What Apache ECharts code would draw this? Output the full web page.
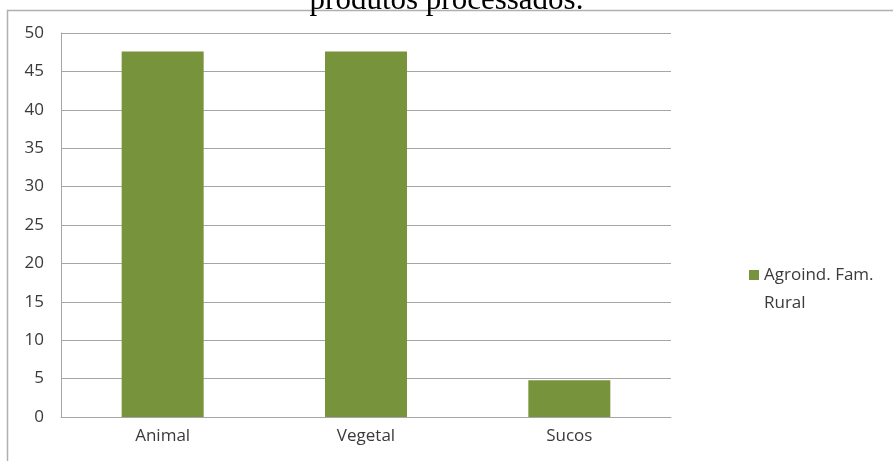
<!DOCTYPE html>
<html>
<head>
<meta charset="utf-8">
<script src="https://cdn.jsdelivr.net/npm/echarts@6/dist/echarts.min.js"></script>
<style>
	html, body { margin: 0; padding: 0; background: #fff; }
	#main { width: 893px; height: 461px; }
</style>
</head>
<body>
<div id="main"></div>
<script>
	// dados do gráfico
	var categorias = ['Animal', 'Vegetal', 'Sucos'];
	var serieNome = 'Agroind. Fam.\nRural';
	var valores = [47.6, 47.6, 4.8];
	var yTicks = [0, 5, 10, 15, 20, 25, 30, 35, 40, 45, 50];

	var fonte = '"Open Sans", Lato, sans-serif';
	var corTexto = '#3a3a3a';
	var corGrade = '#a6a6a6';

	var myChart = echarts.init(document.getElementById('main'));

	var option = {
		animation: false,
		title: {
			text: 'produtos processados.',
			left: 'center',
			top: -20,
			textStyle: {
				fontFamily: '"Liberation Serif", "DejaVu Serif", serif',
				fontWeight: 'normal',
				fontSize: 31,
				color: '#000'
			}
		},
		graphic: [
			{
				type: 'rect',
				shape: { x: 7.5, y: 10.5, width: 900, height: 460 },
				style: { fill: 'none', stroke: '#b0b0b0', lineWidth: 1.5 },
				z: -1
			}
		],
		legend: {
			orient: 'vertical',
			left: 749,
			top: 261,
			padding: 0,
			itemWidth: 10,
			itemHeight: 38,
			itemGap: 0,
			// quadrado no topo, ponto invisível embaixo para alinhar com a 1a linha
			icon: 'path://M0,0h10v10h-10z M0,38h0.01v0.01h-0.01z',
			textStyle: {
				fontFamily: fonte,
				fontSize: 17,
				color: corTexto,
				lineHeight: 28,
				padding: [0, 0, 0, 0]
			},
			data: [serieNome]
		},
		grid: {
			left: 61,
			right: 893 - 671,
			top: 33,
			bottom: 461 - 417
		},
		xAxis: {
			type: 'category',
			data: categorias,
			axisLine: { lineStyle: { color: corGrade, width: 1 } },
			axisTick: { show: false },
			axisLabel: {
				fontFamily: fonte,
				fontSize: 17,
				color: corTexto,
				margin: 11
			}
		},
		yAxis: {
			type: 'value',
			min: yTicks[0],
			max: yTicks[yTicks.length - 1],
			interval: 5,
			axisLine: { show: true, lineStyle: { color: corGrade, width: 1 } },
			axisTick: { show: false },
			splitLine: { lineStyle: { color: corGrade, width: 1 } },
			axisLabel: {
				fontFamily: fonte,
				fontSize: 17,
				color: corTexto,
				margin: 17
			}
		},
		series: [
			{
				name: serieNome,
				type: 'bar',
				data: valores,
				barWidth: 82,
				itemStyle: { color: '#77933c' }
			}
		]
	};

	myChart.setOption(option);
</script>
</body>
</html>
